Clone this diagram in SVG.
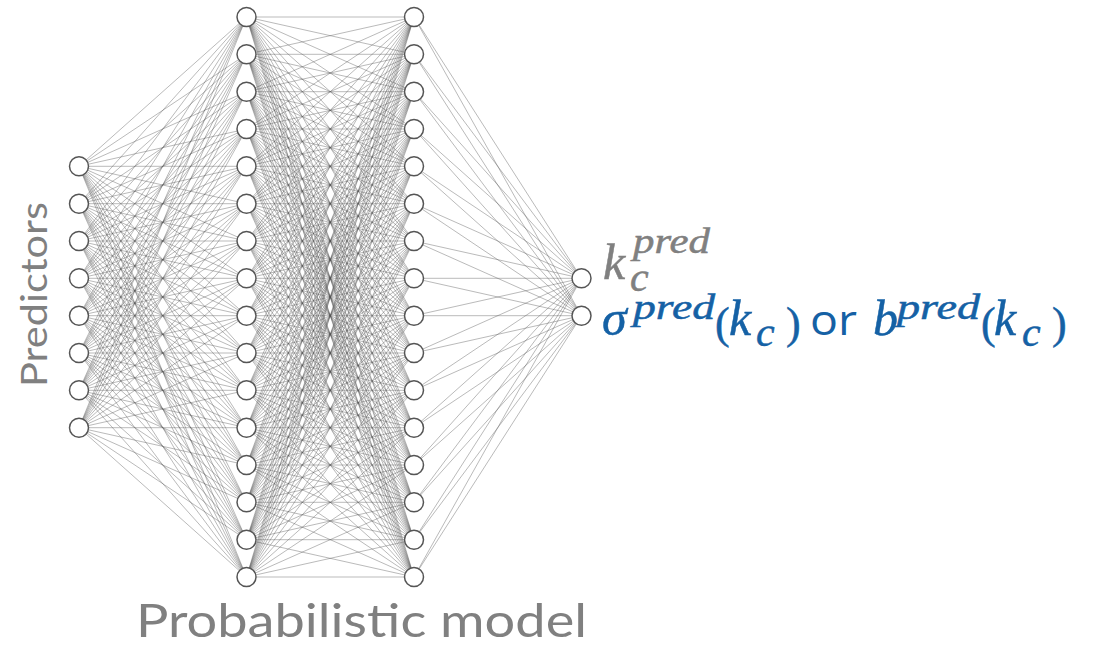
<svg xmlns="http://www.w3.org/2000/svg" width="1096" height="647" viewBox="0 0 1096 647">
<style>
.e{fill:none;stroke:#555;stroke-opacity:0.45;stroke-width:0.9}
.n{fill:#fff;stroke:#555;stroke-width:1.5}
.lab{font-family:"Lato","Open Sans",sans-serif;fill:#808080}
.mt{font-family:"Liberation Serif","DejaVu Serif",serif}
.i{font-style:italic}
.g{fill:#808080;stroke:#808080;stroke-width:0.5}
.b{fill:#1561a5;stroke:#1561a5;stroke-width:0.5}
.s{font-family:"Open Sans",sans-serif;font-style:normal;stroke-width:0}
</style>
<rect width="1096" height="647" fill="#fff"/>
<g id="connectors">
<path class="e" d="M79 166.3L246.5 17M79 166.3L246.5 54.3M79 166.3L246.5 91.7M79 166.3L246.5 129M79 166.3L246.5 166.3M79 166.3L246.5 203.7M79 166.3L246.5 241M79 166.3L246.5 278.3M79 166.3L246.5 315.7M79 166.3L246.5 353M79 166.3L246.5 390.3M79 166.3L246.5 427.7M79 166.3L246.5 465M79 166.3L246.5 502.3M79 166.3L246.5 539.7M79 166.3L246.5 577"/>
<path class="e" d="M79 203.7L246.5 17M79 203.7L246.5 54.3M79 203.7L246.5 91.7M79 203.7L246.5 129M79 203.7L246.5 166.3M79 203.7L246.5 203.7M79 203.7L246.5 241M79 203.7L246.5 278.3M79 203.7L246.5 315.7M79 203.7L246.5 353M79 203.7L246.5 390.3M79 203.7L246.5 427.7M79 203.7L246.5 465M79 203.7L246.5 502.3M79 203.7L246.5 539.7M79 203.7L246.5 577"/>
<path class="e" d="M79 241L246.5 17M79 241L246.5 54.3M79 241L246.5 91.7M79 241L246.5 129M79 241L246.5 166.3M79 241L246.5 203.7M79 241L246.5 241M79 241L246.5 278.3M79 241L246.5 315.7M79 241L246.5 353M79 241L246.5 390.3M79 241L246.5 427.7M79 241L246.5 465M79 241L246.5 502.3M79 241L246.5 539.7M79 241L246.5 577"/>
<path class="e" d="M79 278.3L246.5 17M79 278.3L246.5 54.3M79 278.3L246.5 91.7M79 278.3L246.5 129M79 278.3L246.5 166.3M79 278.3L246.5 203.7M79 278.3L246.5 241M79 278.3L246.5 278.3M79 278.3L246.5 315.7M79 278.3L246.5 353M79 278.3L246.5 390.3M79 278.3L246.5 427.7M79 278.3L246.5 465M79 278.3L246.5 502.3M79 278.3L246.5 539.7M79 278.3L246.5 577"/>
<path class="e" d="M79 315.7L246.5 17M79 315.7L246.5 54.3M79 315.7L246.5 91.7M79 315.7L246.5 129M79 315.7L246.5 166.3M79 315.7L246.5 203.7M79 315.7L246.5 241M79 315.7L246.5 278.3M79 315.7L246.5 315.7M79 315.7L246.5 353M79 315.7L246.5 390.3M79 315.7L246.5 427.7M79 315.7L246.5 465M79 315.7L246.5 502.3M79 315.7L246.5 539.7M79 315.7L246.5 577"/>
<path class="e" d="M79 353L246.5 17M79 353L246.5 54.3M79 353L246.5 91.7M79 353L246.5 129M79 353L246.5 166.3M79 353L246.5 203.7M79 353L246.5 241M79 353L246.5 278.3M79 353L246.5 315.7M79 353L246.5 353M79 353L246.5 390.3M79 353L246.5 427.7M79 353L246.5 465M79 353L246.5 502.3M79 353L246.5 539.7M79 353L246.5 577"/>
<path class="e" d="M79 390.3L246.5 17M79 390.3L246.5 54.3M79 390.3L246.5 91.7M79 390.3L246.5 129M79 390.3L246.5 166.3M79 390.3L246.5 203.7M79 390.3L246.5 241M79 390.3L246.5 278.3M79 390.3L246.5 315.7M79 390.3L246.5 353M79 390.3L246.5 390.3M79 390.3L246.5 427.7M79 390.3L246.5 465M79 390.3L246.5 502.3M79 390.3L246.5 539.7M79 390.3L246.5 577"/>
<path class="e" d="M79 427.7L246.5 17M79 427.7L246.5 54.3M79 427.7L246.5 91.7M79 427.7L246.5 129M79 427.7L246.5 166.3M79 427.7L246.5 203.7M79 427.7L246.5 241M79 427.7L246.5 278.3M79 427.7L246.5 315.7M79 427.7L246.5 353M79 427.7L246.5 390.3M79 427.7L246.5 427.7M79 427.7L246.5 465M79 427.7L246.5 502.3M79 427.7L246.5 539.7M79 427.7L246.5 577"/>
<path class="e" d="M246.5 17L414 17M246.5 17L414 54.3M246.5 17L414 91.7M246.5 17L414 129M246.5 17L414 166.3M246.5 17L414 203.7M246.5 17L414 241M246.5 17L414 278.3M246.5 17L414 315.7M246.5 17L414 353M246.5 17L414 390.3M246.5 17L414 427.7M246.5 17L414 465M246.5 17L414 502.3M246.5 17L414 539.7M246.5 17L414 577"/>
<path class="e" d="M246.5 54.3L414 17M246.5 54.3L414 54.3M246.5 54.3L414 91.7M246.5 54.3L414 129M246.5 54.3L414 166.3M246.5 54.3L414 203.7M246.5 54.3L414 241M246.5 54.3L414 278.3M246.5 54.3L414 315.7M246.5 54.3L414 353M246.5 54.3L414 390.3M246.5 54.3L414 427.7M246.5 54.3L414 465M246.5 54.3L414 502.3M246.5 54.3L414 539.7M246.5 54.3L414 577"/>
<path class="e" d="M246.5 91.7L414 17M246.5 91.7L414 54.3M246.5 91.7L414 91.7M246.5 91.7L414 129M246.5 91.7L414 166.3M246.5 91.7L414 203.7M246.5 91.7L414 241M246.5 91.7L414 278.3M246.5 91.7L414 315.7M246.5 91.7L414 353M246.5 91.7L414 390.3M246.5 91.7L414 427.7M246.5 91.7L414 465M246.5 91.7L414 502.3M246.5 91.7L414 539.7M246.5 91.7L414 577"/>
<path class="e" d="M246.5 129L414 17M246.5 129L414 54.3M246.5 129L414 91.7M246.5 129L414 129M246.5 129L414 166.3M246.5 129L414 203.7M246.5 129L414 241M246.5 129L414 278.3M246.5 129L414 315.7M246.5 129L414 353M246.5 129L414 390.3M246.5 129L414 427.7M246.5 129L414 465M246.5 129L414 502.3M246.5 129L414 539.7M246.5 129L414 577"/>
<path class="e" d="M246.5 166.3L414 17M246.5 166.3L414 54.3M246.5 166.3L414 91.7M246.5 166.3L414 129M246.5 166.3L414 166.3M246.5 166.3L414 203.7M246.5 166.3L414 241M246.5 166.3L414 278.3M246.5 166.3L414 315.7M246.5 166.3L414 353M246.5 166.3L414 390.3M246.5 166.3L414 427.7M246.5 166.3L414 465M246.5 166.3L414 502.3M246.5 166.3L414 539.7M246.5 166.3L414 577"/>
<path class="e" d="M246.5 203.7L414 17M246.5 203.7L414 54.3M246.5 203.7L414 91.7M246.5 203.7L414 129M246.5 203.7L414 166.3M246.5 203.7L414 203.7M246.5 203.7L414 241M246.5 203.7L414 278.3M246.5 203.7L414 315.7M246.5 203.7L414 353M246.5 203.7L414 390.3M246.5 203.7L414 427.7M246.5 203.7L414 465M246.5 203.7L414 502.3M246.5 203.7L414 539.7M246.5 203.7L414 577"/>
<path class="e" d="M246.5 241L414 17M246.5 241L414 54.3M246.5 241L414 91.7M246.5 241L414 129M246.5 241L414 166.3M246.5 241L414 203.7M246.5 241L414 241M246.5 241L414 278.3M246.5 241L414 315.7M246.5 241L414 353M246.5 241L414 390.3M246.5 241L414 427.7M246.5 241L414 465M246.5 241L414 502.3M246.5 241L414 539.7M246.5 241L414 577"/>
<path class="e" d="M246.5 278.3L414 17M246.5 278.3L414 54.3M246.5 278.3L414 91.7M246.5 278.3L414 129M246.5 278.3L414 166.3M246.5 278.3L414 203.7M246.5 278.3L414 241M246.5 278.3L414 278.3M246.5 278.3L414 315.7M246.5 278.3L414 353M246.5 278.3L414 390.3M246.5 278.3L414 427.7M246.5 278.3L414 465M246.5 278.3L414 502.3M246.5 278.3L414 539.7M246.5 278.3L414 577"/>
<path class="e" d="M246.5 315.7L414 17M246.5 315.7L414 54.3M246.5 315.7L414 91.7M246.5 315.7L414 129M246.5 315.7L414 166.3M246.5 315.7L414 203.7M246.5 315.7L414 241M246.5 315.7L414 278.3M246.5 315.7L414 315.7M246.5 315.7L414 353M246.5 315.7L414 390.3M246.5 315.7L414 427.7M246.5 315.7L414 465M246.5 315.7L414 502.3M246.5 315.7L414 539.7M246.5 315.7L414 577"/>
<path class="e" d="M246.5 353L414 17M246.5 353L414 54.3M246.5 353L414 91.7M246.5 353L414 129M246.5 353L414 166.3M246.5 353L414 203.7M246.5 353L414 241M246.5 353L414 278.3M246.5 353L414 315.7M246.5 353L414 353M246.5 353L414 390.3M246.5 353L414 427.7M246.5 353L414 465M246.5 353L414 502.3M246.5 353L414 539.7M246.5 353L414 577"/>
<path class="e" d="M246.5 390.3L414 17M246.5 390.3L414 54.3M246.5 390.3L414 91.7M246.5 390.3L414 129M246.5 390.3L414 166.3M246.5 390.3L414 203.7M246.5 390.3L414 241M246.5 390.3L414 278.3M246.5 390.3L414 315.7M246.5 390.3L414 353M246.5 390.3L414 390.3M246.5 390.3L414 427.7M246.5 390.3L414 465M246.5 390.3L414 502.3M246.5 390.3L414 539.7M246.5 390.3L414 577"/>
<path class="e" d="M246.5 427.7L414 17M246.5 427.7L414 54.3M246.5 427.7L414 91.7M246.5 427.7L414 129M246.5 427.7L414 166.3M246.5 427.7L414 203.7M246.5 427.7L414 241M246.5 427.7L414 278.3M246.5 427.7L414 315.7M246.5 427.7L414 353M246.5 427.7L414 390.3M246.5 427.7L414 427.7M246.5 427.7L414 465M246.5 427.7L414 502.3M246.5 427.7L414 539.7M246.5 427.7L414 577"/>
<path class="e" d="M246.5 465L414 17M246.5 465L414 54.3M246.5 465L414 91.7M246.5 465L414 129M246.5 465L414 166.3M246.5 465L414 203.7M246.5 465L414 241M246.5 465L414 278.3M246.5 465L414 315.7M246.5 465L414 353M246.5 465L414 390.3M246.5 465L414 427.7M246.5 465L414 465M246.5 465L414 502.3M246.5 465L414 539.7M246.5 465L414 577"/>
<path class="e" d="M246.5 502.3L414 17M246.5 502.3L414 54.3M246.5 502.3L414 91.7M246.5 502.3L414 129M246.5 502.3L414 166.3M246.5 502.3L414 203.7M246.5 502.3L414 241M246.5 502.3L414 278.3M246.5 502.3L414 315.7M246.5 502.3L414 353M246.5 502.3L414 390.3M246.5 502.3L414 427.7M246.5 502.3L414 465M246.5 502.3L414 502.3M246.5 502.3L414 539.7M246.5 502.3L414 577"/>
<path class="e" d="M246.5 539.7L414 17M246.5 539.7L414 54.3M246.5 539.7L414 91.7M246.5 539.7L414 129M246.5 539.7L414 166.3M246.5 539.7L414 203.7M246.5 539.7L414 241M246.5 539.7L414 278.3M246.5 539.7L414 315.7M246.5 539.7L414 353M246.5 539.7L414 390.3M246.5 539.7L414 427.7M246.5 539.7L414 465M246.5 539.7L414 502.3M246.5 539.7L414 539.7M246.5 539.7L414 577"/>
<path class="e" d="M246.5 577L414 17M246.5 577L414 54.3M246.5 577L414 91.7M246.5 577L414 129M246.5 577L414 166.3M246.5 577L414 203.7M246.5 577L414 241M246.5 577L414 278.3M246.5 577L414 315.7M246.5 577L414 353M246.5 577L414 390.3M246.5 577L414 427.7M246.5 577L414 465M246.5 577L414 502.3M246.5 577L414 539.7M246.5 577L414 577"/>
<path class="e" d="M581.5 278.3L414 17M581.5 278.3L414 54.3M581.5 278.3L414 91.7M581.5 278.3L414 129M581.5 278.3L414 166.3M581.5 278.3L414 203.7M581.5 278.3L414 241M581.5 278.3L414 278.3M581.5 278.3L414 315.7M581.5 278.3L414 353M581.5 278.3L414 390.3M581.5 278.3L414 427.7M581.5 278.3L414 465M581.5 278.3L414 502.3M581.5 278.3L414 539.7M581.5 278.3L414 577"/>
<path class="e" d="M581.5 315.7L414 17M581.5 315.7L414 54.3M581.5 315.7L414 91.7M581.5 315.7L414 129M581.5 315.7L414 166.3M581.5 315.7L414 203.7M581.5 315.7L414 241M581.5 315.7L414 278.3M581.5 315.7L414 315.7M581.5 315.7L414 353M581.5 315.7L414 390.3M581.5 315.7L414 427.7M581.5 315.7L414 465M581.5 315.7L414 502.3M581.5 315.7L414 539.7M581.5 315.7L414 577"/>
</g>
<g id="input-layer">
<circle id="in1" class="n" cx="79" cy="166.3" r="9.5"/>
<circle id="in2" class="n" cx="79" cy="203.7" r="9.5"/>
<circle id="in3" class="n" cx="79" cy="241" r="9.5"/>
<circle id="in4" class="n" cx="79" cy="278.3" r="9.5"/>
<circle id="in5" class="n" cx="79" cy="315.7" r="9.5"/>
<circle id="in6" class="n" cx="79" cy="353" r="9.5"/>
<circle id="in7" class="n" cx="79" cy="390.3" r="9.5"/>
<circle id="in8" class="n" cx="79" cy="427.7" r="9.5"/>
</g>
<g id="hidden-layer-1">
<circle id="h1n1" class="n" cx="246.5" cy="17" r="9.5"/>
<circle id="h1n2" class="n" cx="246.5" cy="54.3" r="9.5"/>
<circle id="h1n3" class="n" cx="246.5" cy="91.7" r="9.5"/>
<circle id="h1n4" class="n" cx="246.5" cy="129" r="9.5"/>
<circle id="h1n5" class="n" cx="246.5" cy="166.3" r="9.5"/>
<circle id="h1n6" class="n" cx="246.5" cy="203.7" r="9.5"/>
<circle id="h1n7" class="n" cx="246.5" cy="241" r="9.5"/>
<circle id="h1n8" class="n" cx="246.5" cy="278.3" r="9.5"/>
<circle id="h1n9" class="n" cx="246.5" cy="315.7" r="9.5"/>
<circle id="h1n10" class="n" cx="246.5" cy="353" r="9.5"/>
<circle id="h1n11" class="n" cx="246.5" cy="390.3" r="9.5"/>
<circle id="h1n12" class="n" cx="246.5" cy="427.7" r="9.5"/>
<circle id="h1n13" class="n" cx="246.5" cy="465" r="9.5"/>
<circle id="h1n14" class="n" cx="246.5" cy="502.3" r="9.5"/>
<circle id="h1n15" class="n" cx="246.5" cy="539.7" r="9.5"/>
<circle id="h1n16" class="n" cx="246.5" cy="577" r="9.5"/>
</g>
<g id="hidden-layer-2">
<circle id="h2n1" class="n" cx="414" cy="17" r="9.5"/>
<circle id="h2n2" class="n" cx="414" cy="54.3" r="9.5"/>
<circle id="h2n3" class="n" cx="414" cy="91.7" r="9.5"/>
<circle id="h2n4" class="n" cx="414" cy="129" r="9.5"/>
<circle id="h2n5" class="n" cx="414" cy="166.3" r="9.5"/>
<circle id="h2n6" class="n" cx="414" cy="203.7" r="9.5"/>
<circle id="h2n7" class="n" cx="414" cy="241" r="9.5"/>
<circle id="h2n8" class="n" cx="414" cy="278.3" r="9.5"/>
<circle id="h2n9" class="n" cx="414" cy="315.7" r="9.5"/>
<circle id="h2n10" class="n" cx="414" cy="353" r="9.5"/>
<circle id="h2n11" class="n" cx="414" cy="390.3" r="9.5"/>
<circle id="h2n12" class="n" cx="414" cy="427.7" r="9.5"/>
<circle id="h2n13" class="n" cx="414" cy="465" r="9.5"/>
<circle id="h2n14" class="n" cx="414" cy="502.3" r="9.5"/>
<circle id="h2n15" class="n" cx="414" cy="539.7" r="9.5"/>
<circle id="h2n16" class="n" cx="414" cy="577" r="9.5"/>
</g>
<g id="output-layer">
<circle id="out1" class="n" cx="581.5" cy="278.3" r="9.5"/>
<circle id="out2" class="n" cx="581.5" cy="315.7" r="9.5"/>
</g>
<g id="label-predictors">
<text class="lab" transform="translate(47,294.5) rotate(-90)" text-anchor="middle" font-size="37" textLength="185" lengthAdjust="spacingAndGlyphs">Predictors</text>
</g>
<g id="label-model">
<text class="lab" x="136" y="637" font-size="46" textLength="451" lengthAdjust="spacingAndGlyphs">Probabilistic model</text>
</g>
<g id="label-output-1">
<text class="mt g" font-size="50"><tspan class="i" x="603" y="279">k</tspan><tspan class="i" x="633" y="253" font-size="36" textLength="77" lengthAdjust="spacingAndGlyphs">pred</tspan><tspan class="i" x="630" y="291" font-size="42">c</tspan></text>
</g>
<g id="label-output-2">
<text class="mt b" font-size="50"><tspan class="i" x="602" y="335">σ</tspan><tspan class="i" x="633" y="319" font-size="36" textLength="82" lengthAdjust="spacingAndGlyphs">pred</tspan><tspan x="715" y="338" font-size="44">(</tspan><tspan class="i" x="729" y="335">k</tspan><tspan class="i" x="756" y="346" font-size="42">c</tspan><tspan x="786" y="338" font-size="44">)</tspan><tspan class="s" x="810" y="335" font-size="42" textLength="47" lengthAdjust="spacingAndGlyphs">or</tspan><tspan class="i" x="873" y="335">b</tspan><tspan class="i" x="897" y="319" font-size="36" textLength="83" lengthAdjust="spacingAndGlyphs">pred</tspan><tspan x="981" y="338" font-size="44">(</tspan><tspan class="i" x="994" y="335">k</tspan><tspan class="i" x="1022" y="346" font-size="42">c</tspan><tspan x="1052" y="338" font-size="44">)</tspan></text>
</g>
</svg>
